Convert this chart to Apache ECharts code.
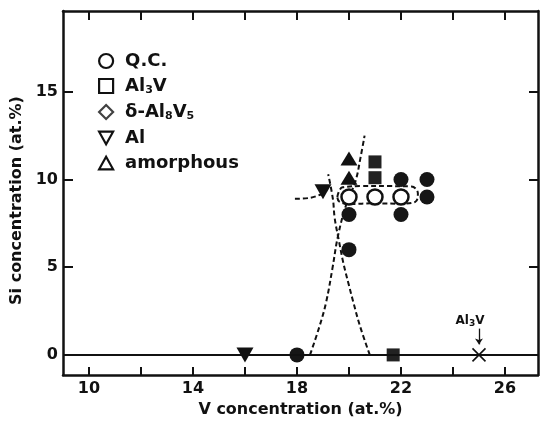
<!DOCTYPE html>
<html>
<head>
<meta charset="utf-8">
<script src="https://cdn.jsdelivr.net/npm/echarts@6/dist/echarts.min.js"></script>
<style>
  html, body { margin: 0; padding: 0; background: #fff; }
  #chart { width: 540px; height: 423px; }
</style>
</head>
<body>
<div id="chart"></div>
<script>
// 坐标轴刻度
const xTicks = [10, 12, 14, 16, 18, 20, 22, 24, 26];
const xLabels = [10, 14, 18, 22, 26];
const yTicks = [5, 10, 15];
const yLabels = [0, 5, 10, 15];

// 各相的数据点 [V, Si]
const qcOpen = [[20, 9], [21, 9], [22, 9]];
const qcMixed = [[18, 0], [20, 6], [20, 8], [22, 8], [22, 10], [23, 10], [23, 9]];
const al3v = [[21, 11], [21, 10.1], [21.7, 0]];
const delta = [];
const alPhase = [[16, 0], [19, 9.3]];
const amorphous = [[20, 11.2], [20, 10.1]];
const al3vRef = [[25, 0]];

// 虚线边界
const curveA = [[18.5, 0], [18.86, 1.6], [19.12, 3.0], [19.36, 4.9], [19.58, 6.8], [19.9, 8.6], [20.25, 9.9], [20.45, 11.3], [20.6, 12.5]];
const curveB = [[20.8, 0], [20.42, 1.66], [20.17, 2.99], [19.97, 4.13], [19.78, 5.26], [19.6, 6.6], [19.45, 7.8], [19.38, 8.9], [19.2, 10.3]];
const curveC = [[17.92, 8.9], [18.5, 8.95], [19.0, 9.2]];
const loop = [[19.55, 9.0], [19.75, 9.55], [20.5, 9.62], [21.5, 9.62], [22.4, 9.6], [22.65, 9.2], [22.55, 8.72], [22, 8.62], [21, 8.64], [20, 8.6], [19.62, 8.75], [19.55, 9.0]];

const ink = '#111';
const font = 'DejaVu Sans';

let chart = echarts.init(document.getElementById('chart'));

let legendNames = {
    'Q.C.': '{n|Q.C.}',
    'Al3V': '{n|Al}{s|3}{n|V}',
    'δ-Al8V5': '{n|δ-Al}{s|8}{n|V}{s|5}',
    'Al': '{n|Al}',
    'amorphous': '{n|amorphous}'
};

function dashed(name, data) {
    return {
        name: name,
        type: 'line',
        data: data,
        smooth: 0.4,
        symbol: 'none',
        silent: true,
        lineStyle: { color: ink, width: 2, type: [5, 3] },
        z: 1
    };
}

let option = {
    animation: false,
    backgroundColor: '#fff',
    grid: { left: 63, right: 2, top: 11, bottom: 47 },
    legend: {
        left: 93,
        top: 47,
        orient: 'vertical',
        itemWidth: 14,
        itemHeight: 14,
        itemGap: 7,
        selectedMode: false,
        itemStyle: { color: '#fff', borderColor: ink, borderWidth: 2.2 },
        formatter: function (name) { return legendNames[name]; },
        textStyle: {
            padding: [0, 0, 0, 7],
            rich: {
                n: { fontFamily: font, fontWeight: 'bold', fontSize: 18, color: ink, lineHeight: 16 },
                s: { fontFamily: font, fontWeight: 'bold', fontSize: 11, color: ink, padding: [9, 0, 0, 0] }
            }
        },
        data: [
            { name: 'Q.C.', icon: 'circle' },
            { name: 'Al3V', icon: 'rect' },
            { name: 'δ-Al8V5', icon: 'path://M5,0L10,5L5,10L0,5Z' },
            { name: 'Al', icon: 'path://M0,0L10,0L5,9Z' },
            { name: 'amorphous', icon: 'path://M5,0L10,9L0,9Z' }
        ]
    },
    xAxis: [{
        type: 'value',
        min: 9,
        max: 27.27,
        name: 'V concentration (at.%)',
        nameLocation: 'middle',
        nameGap: 24,
        nameTextStyle: { fontFamily: font, fontWeight: 'bold', fontSize: 16, color: ink },
        axisLine: { show: true, onZero: false, lineStyle: { color: ink, width: 2.5 } },
        axisTick: { show: true, inside: true, length: 8, customValues: xTicks, lineStyle: { color: ink, width: 2 } },
        axisLabel: { customValues: xLabels, margin: 6, fontFamily: font, fontWeight: 'bold', fontSize: 16, color: ink },
        splitLine: { show: false }
    }, {
        type: 'value',
        position: 'top',
        min: 9,
        max: 27.27,
        axisLine: { show: true, onZero: false, lineStyle: { color: ink, width: 2.5 } },
        axisTick: { show: true, inside: true, length: 9, customValues: xTicks, lineStyle: { color: ink, width: 2 } },
        axisLabel: { show: false },
        splitLine: { show: false }
    }],
    yAxis: [{
        type: 'value',
        min: -1.15,
        max: 19.6,
        name: 'Si concentration (at.%)',
        nameLocation: 'middle',
        nameRotate: 90,
        nameGap: 22,
        nameTextStyle: { fontFamily: font, fontWeight: 'bold', fontSize: 16, color: ink, padding: [0, 0, 0, -15] },
        axisLine: { show: true, onZero: false, lineStyle: { color: ink, width: 2.5 } },
        axisTick: { show: true, inside: true, length: 10, customValues: yTicks, lineStyle: { color: ink, width: 2 } },
        axisLabel: { customValues: yLabels, margin: 5, fontFamily: font, fontWeight: 'bold', fontSize: 16, color: ink },
        splitLine: { show: false }
    }, {
        type: 'value',
        position: 'right',
        min: -1.15,
        max: 19.6,
        axisLine: { show: true, onZero: false, lineStyle: { color: ink, width: 2.5 } },
        axisTick: { show: true, inside: true, length: 9, customValues: yTicks, lineStyle: { color: ink, width: 2 } },
        axisLabel: { show: false },
        splitLine: { show: false }
    }],
    series: [
        dashed('curveA', curveA),
        dashed('curveB', curveB),
        dashed('curveC', curveC),
        dashed('loop', loop),
        {
            name: 'Q.C.',
            type: 'scatter',
            data: qcOpen,
            symbol: 'circle',
            symbolSize: 15,
            itemStyle: { color: '#fff', borderColor: ink, borderWidth: 2.5, opacity: 1 },
            markLine: {
                silent: true,
                symbol: 'none',
                label: { show: false },
                lineStyle: { color: ink, width: 2, type: 'solid' },
                data: [{ yAxis: 0 }]
            },
            z: 3
        },
        {
            name: 'Q.C. mixed',
            type: 'scatter',
            data: qcMixed,
            symbol: 'circle',
            symbolSize: 15,
            itemStyle: { color: '#161616', opacity: 1 },
            z: 3
        },
        {
            name: 'Al3V',
            type: 'scatter',
            data: al3v,
            symbol: 'rect',
            symbolSize: 13,
            itemStyle: { color: '#222', opacity: 1 },
            z: 3
        },
        {
            name: 'δ-Al8V5',
            type: 'scatter',
            data: delta,
            symbol: 'diamond',
            symbolSize: 14,
            itemStyle: { color: ink }
        },
        {
            name: 'Al',
            type: 'scatter',
            data: alPhase,
            symbol: 'triangle',
            symbolRotate: 180,
            symbolSize: [17, 15],
            itemStyle: { color: ink, opacity: 1 },
            z: 3
        },
        {
            name: 'amorphous',
            type: 'scatter',
            data: amorphous,
            symbol: 'triangle',
            symbolSize: [17, 14],
            itemStyle: { color: ink, opacity: 1 },
            z: 3
        },
        {
            name: 'Al3V ref',
            type: 'scatter',
            data: al3vRef,
            symbol: 'path://M0,0L10,10M10,0L0,10',
            symbolSize: 13,
            itemStyle: { color: 'transparent', borderColor: ink, borderWidth: 1.6, opacity: 1 },
            label: {
                show: true,
                position: 'top',
                offset: [-9, -14],
                formatter: '{n|Al}{s|3}{n|V}',
                rich: {
                    n: { fontFamily: font, fontWeight: 'bold', fontSize: 12, color: ink },
                    s: { fontFamily: font, fontWeight: 'bold', fontSize: 9, color: ink, padding: [6, 0, 0, 0] }
                }
            },
            markLine: {
                silent: true,
                symbol: ['none', 'arrow'],
                symbolSize: 6,
                label: { show: false },
                lineStyle: { color: ink, width: 1.3, type: 'solid' },
                data: [[{ coord: [25, 1.5] }, { coord: [25, 0.6] }]]
            },
            z: 3
        }
    ]
};

chart.setOption(option);
</script>
</body>
</html>
